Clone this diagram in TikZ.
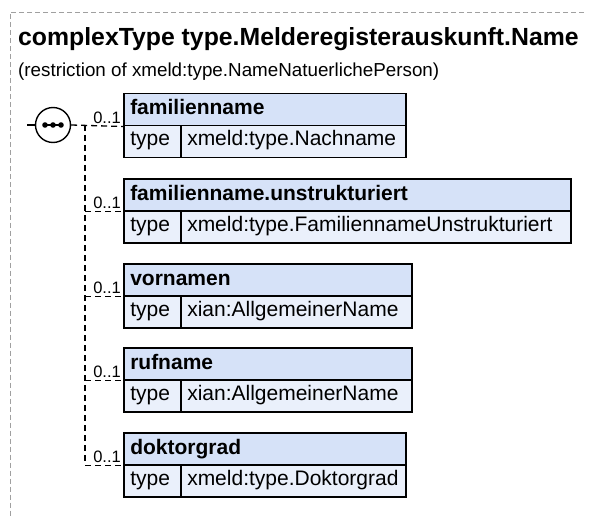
\documentclass[tikz,border=0pt]{standalone}
\usepackage{fontspec}
\setmainfont{Liberation Sans}
\definecolor{hdrfill}{HTML}{D6E2F8}
\definecolor{rowfill}{HTML}{EAF0FB}
\definecolor{framegray}{HTML}{A0A0A0}
\begin{document}
\begin{tikzpicture}[x=1pt,y=-1pt,
  box/.style={draw=black, line width=1.5pt, anchor=north west, inner xsep=6.5pt, inner ysep=0pt,
    minimum height=32pt, align=left},
  hdr/.style={box, fill=hdrfill, text height=15pt, text depth=4.5pt, font=\fontsize{21}{24}\bfseries\selectfont},
  tcell/.style={box, fill=rowfill, text height=14pt, text depth=5.5pt, font=\fontsize{21}{24}\selectfont, minimum width=57pt, text width=44pt},
  vcell/.style={box, fill=rowfill, text height=14pt, text depth=5.5pt, font=\fontsize{21}{24}\selectfont},
  conn/.style={draw=black, line width=1.3pt, dash pattern=on 6pt off 4pt},
  mult/.style={font=\fontsize{16.5}{19}\selectfont, inner sep=0pt, anchor=base east},
  frame/.style={draw=framegray, line width=1pt, dash pattern=on 5pt off 3pt}
]
\useasboundingbox (0,0) rectangle (589,516);
% outer frame
\coordinate (ftr) at (584,12.5);
\coordinate (ftl) at (10,12.5);
\coordinate (fbl) at (10,516);
\draw[frame] (ftr) -- (ftl) -- (fbl);
% titles
\node[anchor=base west, inner sep=0pt, font=\fontsize{24.8}{28}\bfseries\selectfont] (title) at (18,46) {complexType type.Melderegisterauskunft.Name};
\node[anchor=base west, inner sep=0pt, font=\fontsize{18.8}{22}\selectfont] (sub) at (18,77) {(restriction of xmeld:type.NameNatuerlichePerson)};
% boxes
\foreach \i/\yt/\r/\name/\typ in {
  1/93/405/familienname/xmeld:type.Nachname,
  2/178/570/familienname.unstrukturiert/xmeld:type.FamiliennameUnstrukturiert,
  3/263/411/vornamen/xian:AllgemeinerName,
  4/347/411/rufname/xian:AllgemeinerName,
  5/432/405/doktorgrad/xmeld:type.Doktorgrad}{
  \pgfmathsetmacro{\w}{\r-123}
  \pgfmathsetmacro{\vw}{\r-180}
  \node[hdr, minimum width=\w pt, text width=\w pt-13pt] (h\i) at (123,\yt) {\name};
  \node[tcell] (t\i) at (123,\yt+32) {type};
  \node[vcell, minimum width=\vw pt, text width=\vw pt-13pt] (v\i) at (180,\yt+32) {\typ};
}
% compositor
\node[circle, draw=black, line width=1.4pt, fill=white, minimum size=35pt, inner sep=0pt] (comp) at (53,125) {};
\coordinate (cin) at (27,125);
\draw[line width=1.4pt] (cin) -- (comp.west);
\draw[line width=1.5pt] ([xshift=-10pt]comp.center) -- ([xshift=10pt]comp.center);
\foreach \dx in {-8,0,8} \fill ([xshift=\dx pt]comp.center) circle (2.8pt);
% spine
\coordinate (sp) at (85,125);
\coordinate (spb) at (85,464);
\draw[conn] (comp.east) -- (h1.south west);
\draw[conn] (sp) -- (spb);
\foreach \i in {2,3,4,5} \draw[conn] (sp |- h\i.south west) -- (h\i.south west);
\foreach \i in {1,...,5} \node[mult] (m\i) at ([xshift=-2pt,yshift=3pt]h\i.south west) {0..1};
\end{tikzpicture}
\end{document}
